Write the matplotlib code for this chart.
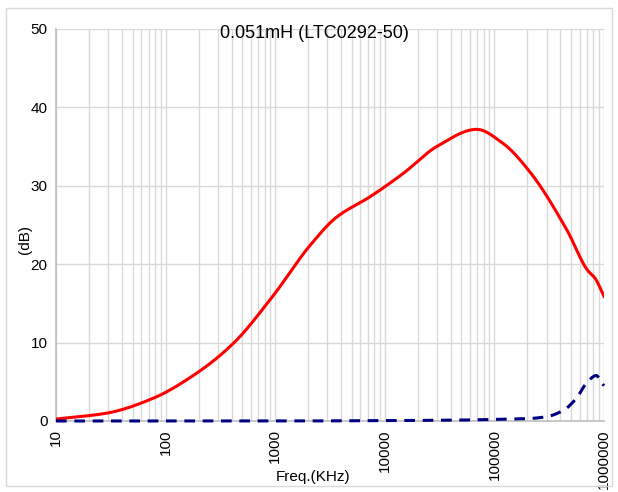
import matplotlib
matplotlib.use('Agg')
import matplotlib.pyplot as plt
import numpy as np
from matplotlib.patches import Rectangle
from matplotlib.ticker import LogLocator, FixedLocator, NullFormatter

plt.rcParams['font.family'] = ['Liberation Sans', 'DejaVu Sans']

# red curve (solid)
freq_a = [10, 29, 77, 192, 415, 960, 2080, 3630, 7330, 14800, 29700,
          69000, 120000, 210000, 457000, 710000, 830000, 1000000]
db_a = [0.25, 1.0, 2.9, 6.1, 9.9, 16.0, 22.4, 26.0, 28.6, 31.6, 35.0,
        37.2, 35.4, 31.8, 24.4, 19.2, 18.2, 15.9]

# blue curve (dashed)
freq_b = [10, 100, 1000, 10000, 50000, 100000, 200000, 300000, 430000, 560000,
          690000, 850000, 960000, 1000000]
db_b = [0.0, 0.0, 0.0, 0.05, 0.12, 0.2, 0.3, 0.55, 1.4, 2.9,
        4.8, 5.8, 4.8, 4.5]

title = '0.051mH (LTC0292-50)'
x_ticks = [10, 100, 1000, 10000, 100000, 1000000]
y_ticks = [0, 10, 20, 30, 40, 50]


def pchip(xs, ys, n=600):
    # monotone cubic on log-x so the line looks smooth like the spreadsheet one
    x = np.log10(np.asarray(xs, float))
    y = np.asarray(ys, float)
    h = np.diff(x)
    d = np.diff(y) / h
    m = np.zeros_like(y)
    for k in range(1, len(y) - 1):
        if d[k - 1] * d[k] > 0:
            w1 = 2 * h[k] + h[k - 1]
            w2 = h[k] + 2 * h[k - 1]
            m[k] = (w1 + w2) / (w1 / d[k - 1] + w2 / d[k])
    m[0] = d[0]
    m[-1] = d[-1]
    t = np.linspace(x[0], x[-1], n)
    idx = np.clip(np.searchsorted(x, t) - 1, 0, len(h) - 1)
    s = (t - x[idx]) / h[idx]
    h00 = 2 * s ** 3 - 3 * s ** 2 + 1
    h10 = s ** 3 - 2 * s ** 2 + s
    h01 = -2 * s ** 3 + 3 * s ** 2
    h11 = s ** 3 - s ** 2
    yy = h00 * y[idx] + h10 * h[idx] * m[idx] + h01 * y[idx + 1] + h11 * h[idx] * m[idx + 1]
    return 10 ** t, yy


fig = plt.figure(figsize=(6.18, 4.92), dpi=100)
ax = fig.add_axes([56 / 618, 1 - 421 / 492, (604 - 56) / 618, (421 - 29) / 492])

xa, ya = pchip(freq_a, db_a)
xb, yb = pchip(freq_b, db_b)
ax.plot(xa, ya, color='#ff0000', lw=2.2, zorder=3)
ax.plot(xb, yb, color='#000080', lw=2.2, ls=(0, (3.5, 2.5)), zorder=3,
        clip_on=False)

ax.set_xscale('log')
ax.set_xlim(10, 1000000)
ax.set_ylim(0, 50)
ax.xaxis.set_major_locator(FixedLocator(x_ticks))
ax.xaxis.set_minor_locator(LogLocator(base=10, subs=np.arange(2, 10)))
ax.xaxis.set_minor_formatter(NullFormatter())
ax.set_xticklabels([str(v) for v in x_ticks], rotation=90, fontsize=11)
ax.set_yticks(y_ticks)
ax.set_yticklabels([str(v) for v in y_ticks], fontsize=11)
ax.tick_params(which='both', length=0, pad=6, colors='#000000')
ax.grid(which='both', axis='x', color='#d9d9d9', lw=1)
ax.grid(which='major', axis='y', color='#d9d9d9', lw=1)
ax.set_axisbelow(True)
for s in ['top', 'right']:
    ax.spines[s].set_visible(False)
for s in ['left', 'bottom']:
    ax.spines[s].set_color('#bfbfbf')
    ax.spines[s].set_linewidth(1.2)

fig.text(314 / 618, 1 - 34 / 492, title, ha='center', va='center', fontsize=13)
fig.text(25 / 618, 1 - 240 / 492, '(dB)', rotation=90, ha='center', va='center', fontsize=11)
fig.text(313 / 618, 1 - 477 / 492, 'Freq.(KHz)', ha='center', va='center', fontsize=11)

fig.patches.append(Rectangle((6 / 618, 1 - 486 / 492), 606 / 618, 478 / 492,
                             transform=fig.transFigure, fill=False,
                             edgecolor='#d9d9d9', lw=1))

fig.savefig('out.png', dpi=100)
